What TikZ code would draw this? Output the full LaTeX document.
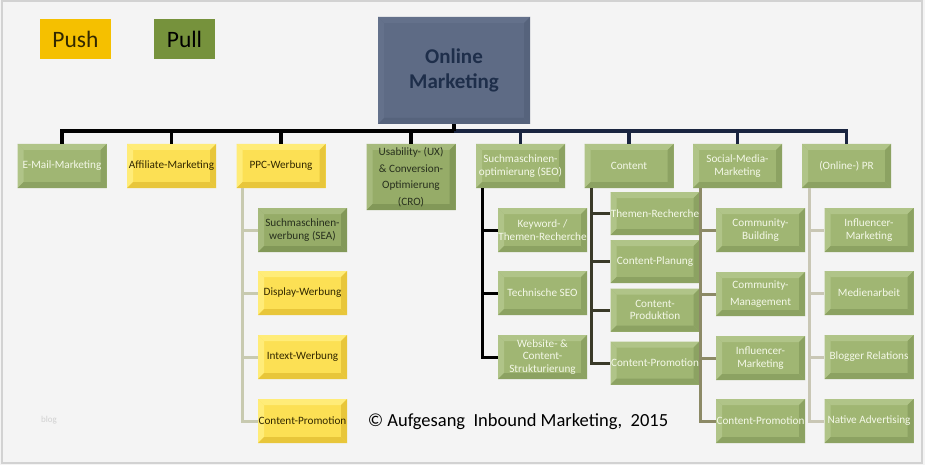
\documentclass[tikz,border=0pt]{standalone}
\usepackage{fontspec}
\setmainfont{Carlito}
\definecolor{bgc}{RGB}{244,244,244}
\definecolor{framec}{RGB}{210,210,210}
\definecolor{gbase}{RGB}{160,182,115}
\definecolor{glight}{RGB}{176,196,136}
\definecolor{gdark}{RGB}{140,162,98}
\definecolor{dgbase}{RGB}{150,172,104}
\definecolor{dglight}{RGB}{166,186,124}
\definecolor{dgdark}{RGB}{130,152,88}
\definecolor{ybase}{RGB}{252,224,84}
\definecolor{ylight}{RGB}{255,236,120}
\definecolor{ydark}{RGB}{232,198,58}
\definecolor{rbase}{RGB}{94,107,133}
\definecolor{rlight}{RGB}{100,113,139}
\definecolor{rdark}{RGB}{86,99,124}
\definecolor{roottext}{RGB}{30,46,74}
\definecolor{gtext}{RGB}{244,248,232}
\definecolor{dtext}{RGB}{40,48,30}
\definecolor{ytext}{RGB}{50,40,0}
\definecolor{pushc}{RGB}{245,192,0}
\definecolor{pullc}{RGB}{118,146,60}
\definecolor{navy}{RGB}{26,37,64}
\definecolor{ppcl}{RGB}{200,202,176}
\definecolor{contl}{RGB}{58,58,40}
\definecolor{socl}{RGB}{140,138,102}
\definecolor{prl}{RGB}{201,199,181}
\tikzset{
  bevel/.style n args={3}{fill=#1, path picture={
    \fill[#2] (path picture bounding box.north west) -- (path picture bounding box.north east)
      -- ([shift={(-6pt,-6pt)}]path picture bounding box.north east) -- ([shift={(6pt,-6pt)}]path picture bounding box.north west) -- cycle;
    \fill[#2] (path picture bounding box.north west) -- (path picture bounding box.south west)
      -- ([shift={(6pt,6pt)}]path picture bounding box.south west) -- ([shift={(6pt,-6pt)}]path picture bounding box.north west) -- cycle;
    \fill[#3] (path picture bounding box.south west) -- (path picture bounding box.south east)
      -- ([shift={(-6pt,6pt)}]path picture bounding box.south east) -- ([shift={(6pt,6pt)}]path picture bounding box.south west) -- cycle;
    \fill[#3] (path picture bounding box.north east) -- (path picture bounding box.south east)
      -- ([shift={(-6pt,6pt)}]path picture bounding box.south east) -- ([shift={(-6pt,-6pt)}]path picture bounding box.north east) -- cycle;
  }},
  box/.style={minimum width=89pt, minimum height=44pt, inner sep=0pt, align=center,
    font=\fontsize{11.2}{12.8}\selectfont},
  gbox/.style={box, bevel={gbase}{glight}{gdark}, text=gtext},
  dgbox/.style={box, bevel={dgbase}{dglight}{dgdark}, text=dtext},
  ybox/.style={box, bevel={ybase}{ylight}{ydark}, text=ytext},
  legend/.style={inner sep=0pt, font=\fontsize{23.5}{25}\selectfont},
  busline/.style={line width=3.5pt},
  kidline/.style={line width=3pt},
}
\begin{document}
\begin{tikzpicture}[x=1pt,y=-1pt]
\fill[bgc] (0,0) rectangle (925,465);
\draw[framec, line width=1.5pt] (2,1) rectangle (922,463);
\useasboundingbox (0,0) rectangle (925,465);

% legend
\node[legend, fill=pushc, minimum width=71pt, minimum height=40pt, text=ytext] (push) at (75.5,39) {Push};
\node[legend, fill=pullc, minimum width=61pt, minimum height=40pt, text=black] (pull) at (184.5,39) {Pull};

% root
\node[bevel={rbase}{rlight}{rdark}, minimum width=152pt, minimum height=107pt, inner sep=0pt, align=center,
  text=roottext, font=\fontsize{21}{25}\selectfont\bfseries] (root) at (454,70.5) {Online\\Marketing};

% level 1
\node[gbox] (email) at (62,166) {E-Mail-Marketing};
\node[ybox] (aff) at (171.5,166) {Affiliate-Marketing};
\node[ybox] (ppc) at (281,166) {PPC-Werbung};
\node[dgbox, minimum height=66pt, font=\fontsize{11.2}{16.5}\selectfont] (ux) at (411,177) {Usability- (UX)\\\& Conversion-\\Optimierung\\(CRO)};
\node[gbox] (seo) at (520.5,166) {Suchmaschinen-\\optimierung (SEO)};
\node[gbox] (cont) at (629,166) {Content};
\node[gbox] (soc) at (737.5,166) {Social-Media-\\Marketing};
\node[gbox] (pr) at (846.5,166) {(Online-) PR};

% bus
\coordinate (busy) at (0,131);
\draw[busline] (email.north) -- (email.north |- busy) -- (root.south |- busy);
\draw[busline, navy] (root.south |- busy) -- (pr.north |- busy) -- (pr.north);
\draw[busline] (root.south) -- (root.south |- busy);
\draw[busline] (aff.north) -- (aff.north |- busy);
\draw[busline] (ppc.north) -- (ppc.north |- busy);
\draw[busline] (ux.north) -- (ux.north |- busy);
\draw[busline, navy] (seo.north) -- (seo.north |- busy);
\draw[busline, navy] (cont.north) -- (cont.north |- busy);
\draw[busline, navy] (soc.north) -- (soc.north |- busy);

% PPC children
\node[dgbox] (sea) at (302.5,230) {Suchmaschinen-\\werbung (SEA)};
\node[ybox] (disp) at (302.5,293) {Display-Werbung};
\node[ybox] (intext) at (302.5,357) {Intext-Werbung};
\node[ybox] (ppcprom) at (302.5,421) {Content-Promotion};
\coordinate (ppcv) at ([xshift=6pt]ppc.south west);
\foreach \c in {sea,disp,intext,ppcprom} \draw[kidline, ppcl] (ppcv) |- (\c.west);

% SEO children
\node[gbox] (kw) at (542.5,230) {Keyword- /\\Themen-Recherche};
\node[gbox] (tech) at (542.5,293) {Technische SEO};
\node[gbox] (web) at (542.5,357) {Website- \&\\Content-\\Strukturierung};
\coordinate (seov) at ([xshift=7pt]seo.south west);
\foreach \c in {kw,tech,web} \draw[kidline, black] (seov) |- (\c.west);

% Content children
\node[gbox, minimum height=43pt] (them) at (655,213.5) {Themen-Recherche};
\node[gbox, minimum height=43pt] (plan) at (655,261.5) {Content-Planung};
\node[gbox, minimum height=43pt] (prod) at (655,310) {Content-\\Produktion};
\node[gbox, minimum height=43pt] (cprom) at (655,363) {Content-Promotion};
\coordinate (contv) at ([xshift=7pt]cont.south west);
\foreach \c in {them,plan,prod,cprom} \draw[kidline, contl] (contv) |- (\c.west);

% Social children
\node[gbox] (cb) at (760.5,230) {Community-\\Building};
\node[gbox, font=\fontsize{11.2}{17}\selectfont] (cm) at (760.5,294) {Community-\\Management};
\node[gbox] (infl) at (760.5,358) {Influencer-\\Marketing};
\node[gbox] (sprom) at (760.5,421) {Content-Promotion};
\coordinate (socv) at ([xshift=8pt]soc.south west);
\foreach \c in {cb,cm,infl,sprom} \draw[kidline, socl] (socv) |- (\c.west);

% PR children
\node[gbox] (pinfl) at (869,230) {Influencer-\\Marketing};
\node[gbox] (med) at (869,293) {Medienarbeit};
\node[gbox] (blog) at (869,357) {Blogger Relations};
\node[gbox] (native) at (869,421) {Native Advertising};
\coordinate (prv) at ([xshift=8pt]pr.south west);
\foreach \c in {pinfl,med,blog,native} \draw[kidline, prl] (prv) |- (\c.west);

% texts
\node[font=\fontsize{18.5}{20}\selectfont, text=black, inner sep=0pt] (copy) at (518,422) {© Aufgesang\ \ Inbound Marketing,\ \ 2015};
\node[font=\fontsize{9}{10}\selectfont, text=black!18, inner sep=0pt] (wm) at (49,420) {blog};
\end{tikzpicture}
\end{document}
